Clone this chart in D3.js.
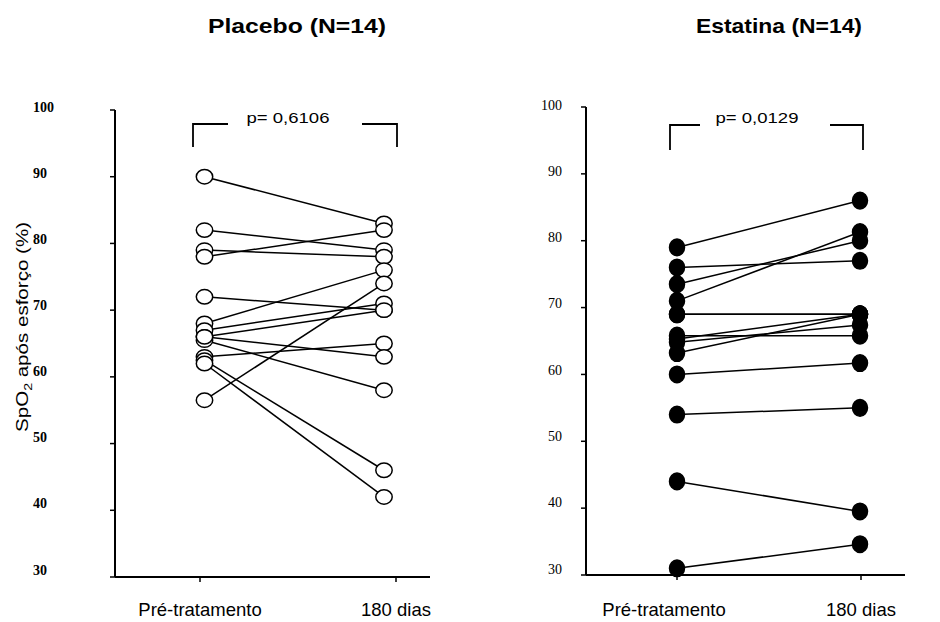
<!DOCTYPE html>
<html>
<head>
<meta charset="utf-8">
<script src="https://cdn.jsdelivr.net/npm/d3@7"></script>
<style>
  body { margin: 0; background: #fff; }
  svg { display: block; }
</style>
</head>
<body>
<svg id="chart" width="940" height="622"></svg>
<script>
// Time points
const timepoints = ["Pré-tratamento", "180 dias"];
// Y axis ticks
const yTicks = [30, 40, 50, 60, 70, 80, 90, 100];

// Placebo group (paired SpO2 values)
const placeboPre  = [90, 82, 79, 78, 72, 68, 67, 66, 65.5, 63, 62.5, 62, 56.5, 66];
const placeboPost = [83, 79, 78, 82, 70, 76, 71, 70, 58, 65, 46, 42, 74, 63];

// Statin group (paired SpO2 values)
const estatinaPre  = [79, 76, 73.5, 71, 69, 69, 65.8, 65.3, 64.8, 63.2, 60, 54, 44, 31];
const estatinaPost = [86, 77, 80, 81.3, 69, 69, 65.8, 69, 67.4, 69, 61.7, 55, 39.5, 34.6];

const titles = ["Placebo (N=14)", "Estatina (N=14)"];
const pValues = ["p= 0,6106", "p= 0,0129"];

const svg = d3.select("#chart");

const panels = [
  {
    title: titles[0], p: pValues[0], pre: placeboPre, post: placeboPost, filled: false,
    axisX: 115, xEnd: 430, yRange: [577, 110], ptRange: [204.5, 384], tickRange: [200, 396],
    labelRange: [200, 396], titleX: 297, titleLen: 178, pX: 288,
    bracket: { l: 193, lEnd: 228, r0: 362, r: 397, top: 124, bottom: 147 },
    tickLabelX: 33, tickAnchor: "start", tickWeight: "bold", labelY: [574.5, 111.5]
  },
  {
    title: titles[1], p: pValues[1], pre: estatinaPre, post: estatinaPost, filled: true,
    axisX: 586, xEnd: 905, yRange: [575, 107], ptRange: [677, 860], tickRange: [677, 861],
    labelRange: [664, 861], titleX: 779, titleLen: 166, pX: 757,
    bracket: { l: 670, lEnd: 700, r0: 830, r: 863, top: 125, bottom: 150 },
    tickLabelX: 562, tickAnchor: "end", tickWeight: "normal", labelY: [573.5, 109.5]
  }
];

panels.forEach(pn => {
  const g = svg.append("g");
  const y = d3.scaleLinear().domain([30, 100]).range(pn.yRange);
  const yLab = d3.scaleLinear().domain([30, 100]).range(pn.labelY);
  const x = d3.scalePoint().domain(timepoints).range(pn.ptRange);
  const xTick = d3.scalePoint().domain(timepoints).range(pn.tickRange);
  const xLab = d3.scalePoint().domain(timepoints).range(pn.labelRange);

  // Title
  g.append("text")
    .attr("x", pn.titleX).attr("y", 33)
    .attr("text-anchor", "middle")
    .attr("font-family", "Liberation Sans, Arial, sans-serif")
    .attr("font-weight", "bold").attr("font-size", 21)
    .attr("textLength", pn.titleLen).attr("lengthAdjust", "spacingAndGlyphs")
    .text(pn.title);

  // Y axis line and ticks
  g.append("line")
    .attr("x1", pn.axisX).attr("x2", pn.axisX)
    .attr("y1", y(100)).attr("y2", y(30))
    .attr("stroke", "#000").attr("stroke-width", 2);
  g.selectAll(".yt").data(yTicks).enter().append("line")
    .attr("x1", pn.axisX - 5).attr("x2", pn.axisX)
    .attr("y1", d => y(d)).attr("y2", d => y(d))
    .attr("stroke", "#000").attr("stroke-width", 1.5);
  g.selectAll(".yl").data(yTicks).enter().append("text")
    .attr("x", pn.tickLabelX).attr("y", d => yLab(d))
    .attr("text-anchor", pn.tickAnchor)
    .attr("font-family", "Liberation Serif, Times New Roman, serif")
    .attr("font-weight", pn.tickWeight).attr("font-size", 14)
    .text(d => d);

  // X axis line and ticks
  g.append("line")
    .attr("x1", pn.axisX).attr("x2", pn.xEnd)
    .attr("y1", y(30)).attr("y2", y(30))
    .attr("stroke", "#000").attr("stroke-width", 2);
  g.selectAll(".xt").data(timepoints).enter().append("line")
    .attr("x1", d => xTick(d)).attr("x2", d => xTick(d))
    .attr("y1", y(30)).attr("y2", y(30) + 5)
    .attr("stroke", "#000").attr("stroke-width", 1.5);
  g.selectAll(".xl").data(timepoints).enter().append("text")
    .attr("x", d => xLab(d)).attr("y", 616)
    .attr("text-anchor", "middle")
    .attr("font-family", "Liberation Sans, Arial, sans-serif")
    .attr("font-size", 18.5)
    .text(d => d);

  // Significance bracket
  const b = pn.bracket;
  g.append("path")
    .attr("d", `M${b.l},${b.bottom}V${b.top}H${b.lEnd}M${b.r0},${b.top}H${b.r}V${b.bottom}`)
    .attr("fill", "none").attr("stroke", "#000").attr("stroke-width", 1.8);
  g.append("text")
    .attr("x", pn.pX).attr("y", 122.5)
    .attr("text-anchor", "middle")
    .attr("font-family", "Liberation Sans, Arial, sans-serif")
    .attr("font-size", 15)
    .attr("textLength", 83).attr("lengthAdjust", "spacingAndGlyphs")
    .text(pn.p);

  // Paired lines
  const pairs = pn.pre.map((v, i) => ({ pre: v, post: pn.post[i] }));
  g.selectAll(".pair").data(pairs).enter().append("line")
    .attr("x1", x(timepoints[0])).attr("y1", d => y(d.pre))
    .attr("x2", x(timepoints[1])).attr("y2", d => y(d.post))
    .attr("stroke", "#000").attr("stroke-width", 1.5);

  // Points
  const pts = [];
  pairs.forEach(d => { pts.push({ t: timepoints[0], v: d.pre }); pts.push({ t: timepoints[1], v: d.post }); });
  g.selectAll(".pt").data(pts).enter().append("ellipse")
    .attr("cx", d => x(d.t)).attr("cy", d => y(d.v))
    .attr("rx", pn.filled ? 7.5 : 8.2).attr("ry", pn.filled ? 8.3 : 7.2)
    .attr("fill", pn.filled ? "#000" : "#fff")
    .attr("stroke", "#000").attr("stroke-width", 1.5);
});

// Y axis title
svg.append("text")
  .attr("transform", "translate(28,327) rotate(-90)")
  .attr("text-anchor", "middle")
  .attr("font-family", "Liberation Sans, Arial, sans-serif")
  .attr("font-size", 16)
  .attr("textLength", 210).attr("lengthAdjust", "spacingAndGlyphs")
  .call(t => {
    t.append("tspan").text("SpO");
    t.append("tspan").attr("font-size", 11).attr("dy", 4).text("2");
    t.append("tspan").attr("dy", -4).text(" após esforço (%)");
  });
</script>
</body>
</html>
